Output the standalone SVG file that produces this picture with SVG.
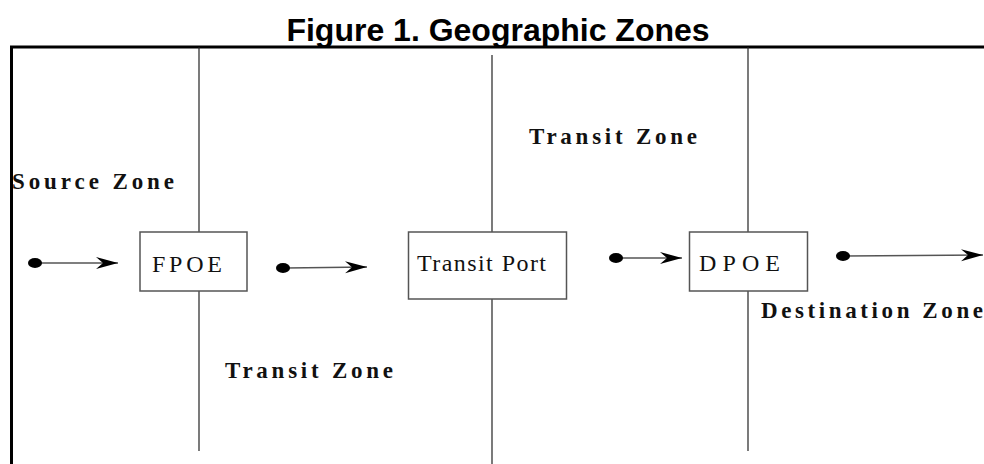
<svg xmlns="http://www.w3.org/2000/svg" width="984" height="464" viewBox="0 0 984 464">
<defs>
<style>
.title{font-family:"Liberation Sans",Arial,sans-serif;font-weight:bold;font-size:32px;fill:#000}
.zone{font-family:"Liberation Serif","Times New Roman",serif;font-weight:bold;font-size:23px;fill:#111}
.lbl{font-family:"Liberation Serif","Times New Roman",serif;font-size:24px;fill:#111}
.box{fill:#fff;stroke:#555;stroke-width:1.5}
.div{stroke:#222;stroke-width:1.2;fill:none}
.frame{stroke:#000;stroke-width:3;fill:none}
.conn{stroke:#555;stroke-width:1.5;fill:none}
.dot{fill:#000}
</style>
<marker id="ah" markerUnits="userSpaceOnUse" markerWidth="24" markerHeight="14" refX="22" refY="6" orient="auto">
<path d="M0,0 L22,6 L0,12 L7,6 Z" fill="#000"/>
</marker>
</defs>
<rect width="984" height="464" fill="#fff"/>
<text class="title" x="498" y="41" text-anchor="middle">Figure 1. Geographic Zones</text>
<g id="frame">
<path class="frame" d="M11.5,464 L11.5,47 L984,47"/>
<line class="div" x1="199" y1="47" x2="199" y2="232"/>
<line class="div" x1="199" y1="291" x2="199" y2="451"/>
<line class="div" x1="492" y1="55" x2="492" y2="232"/>
<line class="div" x1="492" y1="299" x2="492" y2="464"/>
<line class="div" x1="748" y1="47" x2="748" y2="232"/>
<line class="div" x1="748" y1="291" x2="748" y2="451"/>
</g>
<g id="zones">
<text class="zone" x="12" y="189" textLength="162" lengthAdjust="spacing">Source Zone</text>
<text class="zone" x="529" y="144" textLength="168" lengthAdjust="spacing">Transit Zone</text>
<text class="zone" x="225" y="378" textLength="168" lengthAdjust="spacing">Transit Zone</text>
<text class="zone" x="761" y="318" textLength="222" lengthAdjust="spacing">Destination Zone</text>
</g>
<g id="fpoe">
<rect class="box" x="140" y="232" width="107" height="59"/>
<text class="lbl" x="152" y="272" textLength="70" lengthAdjust="spacing">FPOE</text>
</g>
<g id="transit-port">
<rect class="box" x="408.5" y="232" width="158" height="67"/>
<text class="lbl" x="417" y="271" textLength="129" lengthAdjust="spacing">Transit Port</text>
</g>
<g id="dpoe">
<rect class="box" x="689.5" y="232" width="118" height="59"/>
<text class="lbl" x="699" y="271" textLength="81" lengthAdjust="spacing">DPOE</text>
</g>
<g id="connectors">
<line class="conn" x1="38" y1="263" x2="118" y2="263" marker-end="url(#ah)"/>
<ellipse class="dot" cx="35" cy="263" rx="7" ry="5"/>
<line class="conn" x1="286" y1="268" x2="367" y2="267" marker-end="url(#ah)"/>
<ellipse class="dot" cx="283" cy="268" rx="7" ry="5"/>
<line class="conn" x1="620" y1="258" x2="682" y2="258" marker-end="url(#ah)"/>
<ellipse class="dot" cx="616" cy="258" rx="7" ry="5"/>
<line class="conn" x1="846" y1="256" x2="983" y2="255" marker-end="url(#ah)"/>
<ellipse class="dot" cx="843" cy="256" rx="7" ry="5"/>
</g>
</svg>
